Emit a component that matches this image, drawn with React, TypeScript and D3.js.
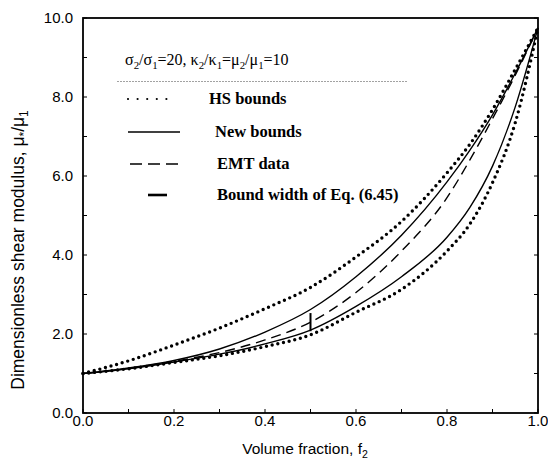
import React, { useEffect, useRef } from "react";
import * as d3 from "d3";

// volume fraction f2 where the curves were read
const fractions = [0, 0.1, 0.2, 0.3, 0.4, 0.5, 0.6, 0.7, 0.8, 0.85, 0.9, 0.95, 1.0];
const hsUpper = [1.0, 1.32, 1.72, 2.15, 2.64, 3.18, 3.95, 4.85, 6.08, 6.8, 7.68, 8.7, 9.75];
const hsLower = [1.0, 1.12, 1.28, 1.45, 1.68, 1.98, 2.55, 3.13, 4.1, 4.78, 5.83, 7.35, 9.75];
const newUpper = [1.0, 1.14, 1.33, 1.62, 2.05, 2.62, 3.45, 4.5, 5.85, 6.65, 7.55, 8.6, 9.75];
const newLower = [1.0, 1.12, 1.29, 1.49, 1.75, 2.1, 2.7, 3.45, 4.45, 5.2, 6.25, 7.75, 9.75];
const emtData = [1.0, 1.13, 1.31, 1.53, 1.85, 2.3, 3.05, 4.1, 5.45, 6.4, 7.45, 8.55, 9.75];

// bound width of Eq. (6.45) at f2 = 0.5
const boundWidthF = 0.5;
const boundWidthRange = [2.07, 2.53];

const xTickLabels = ["0.0", "0.2", "0.4", "0.6", "0.8", "1.0"];
const yTickLabels = ["0.0", "2.0", "4.0", "6.0", "8.0", "10.0"];

const legendItems = ["HS bounds", "New bounds", "EMT data", "Bound width of Eq. (6.45)"];

const W = 548;
const H = 459;

type Part = { t: string; sub?: boolean };

const richText = (sel: any, parts: Part[], size: number) => {
  parts.forEach((p, i) => {
    const prevSub = i > 0 && parts[i - 1].sub;
    if (p.sub) {
      sel.append("tspan").attr("font-size", size * 0.68).attr("dy", size * 0.25).text(p.t);
    } else {
      sel
        .append("tspan")
        .attr("font-size", size)
        .attr("dy", prevSub ? -size * 0.25 : 0)
        .text(p.t);
    }
  });
};

const App = () => {
  const svgRef = useRef<SVGSVGElement>(null);

  useEffect(() => {
    const svg = d3.select(svgRef.current);
    svg.selectAll("*").remove();

    const x = d3.scaleLinear().domain([0, 1]).range([83, 538]);
    const y = d3.scaleLinear().domain([0, 10]).range([413, 18]);

    const line = d3
      .line<number>()
      .x((_d, i) => x(fractions[i]))
      .y((d) => y(d))
      .curve(d3.curveMonotoneX);

    const g = svg.append("g");

    // HS bounds: dotted
    [hsUpper, hsLower].forEach((s) => {
      g.append("path")
        .attr("d", line(s))
        .attr("fill", "none")
        .attr("stroke", "#000")
        .attr("stroke-width", 3.4)
        .attr("stroke-linecap", "round")
        .attr("stroke-dasharray", "0 5.8");
    });

    // new bounds: solid
    [newUpper, newLower].forEach((s) => {
      g.append("path")
        .attr("d", line(s))
        .attr("fill", "none")
        .attr("stroke", "#000")
        .attr("stroke-width", 1.4);
    });

    // EMT: dashed
    g.append("path")
      .attr("d", line(emtData))
      .attr("fill", "none")
      .attr("stroke", "#000")
      .attr("stroke-width", 1.4)
      .attr("stroke-dasharray", "10 6");

    g.append("line")
      .attr("x1", x(boundWidthF))
      .attr("x2", x(boundWidthF))
      .attr("y1", y(boundWidthRange[0]))
      .attr("y2", y(boundWidthRange[1]))
      .attr("stroke", "#000")
      .attr("stroke-width", 2);

    // frame
    svg
      .append("rect")
      .attr("x", 83)
      .attr("y", 18)
      .attr("width", 455)
      .attr("height", 395)
      .attr("fill", "none")
      .attr("stroke", "#000")
      .attr("stroke-width", 1.8);

    // ticks
    const ticks = svg.append("g").attr("stroke", "#000").attr("stroke-width", 1);
    d3.range(0, 11).forEach((i) => {
      const v = i / 10;
      ticks.append("line").attr("x1", x(v)).attr("x2", x(v)).attr("y1", 413).attr("y2", 409);
      ticks.append("line").attr("y1", y(i)).attr("y2", y(i)).attr("x1", 83).attr("x2", 87);
      ticks.append("line").attr("y1", y(i)).attr("y2", y(i)).attr("x1", 538).attr("x2", 534);
    });

    const sans = "Liberation Sans, Arial, Helvetica, sans-serif";
    const serif = "Liberation Serif, Times New Roman, serif";

    svg
      .selectAll(".xt")
      .data(xTickLabels)
      .enter()
      .append("text")
      .attr("x", (d) => x(+d))
      .attr("y", 426)
      .attr("text-anchor", "middle")
      .attr("font-family", sans)
      .attr("font-size", 15)
      .text((d) => d);

    svg
      .selectAll(".yt")
      .data(yTickLabels)
      .enter()
      .append("text")
      .attr("x", 73)
      .attr("y", (d) => y(+d) + 5)
      .attr("text-anchor", "end")
      .attr("font-family", sans)
      .attr("font-size", 15)
      .text((d) => d);

    const xl = svg
      .append("text")
      .attr("x", 305)
      .attr("y", 454)
      .attr("text-anchor", "middle")
      .attr("font-family", sans)
      .attr("font-size", 15.5);
    richText(xl, [{ t: "Volume fraction, f" }, { t: "2", sub: true }], 15.5);

    const yl = svg
      .append("text")
      .attr("transform", "translate(24,250) rotate(-90)")
      .attr("text-anchor", "middle")
      .attr("font-family", sans)
      .attr("font-size", 17.5);
    richText(
      yl,
      [{ t: "Dimensionless shear modulus, μ" }, { t: "*", sub: true }, { t: "/μ" }, { t: "1", sub: true }],
      17.5
    );

    // legend
    const title = svg
      .append("text")
      .attr("x", 125)
      .attr("y", 65)
      .attr("font-family", serif)
      .attr("font-size", 16);
    richText(
      title,
      [
        { t: "σ" }, { t: "2", sub: true }, { t: "/σ" }, { t: "1", sub: true },
        { t: "=20, κ" }, { t: "2", sub: true }, { t: "/κ" }, { t: "1", sub: true },
        { t: "=μ" }, { t: "2", sub: true }, { t: "/μ" }, { t: "1", sub: true }, { t: "=10" },
      ],
      16
    );

    svg
      .append("line")
      .attr("x1", 117)
      .attr("x2", 408)
      .attr("y1", 81.5)
      .attr("y2", 81.5)
      .attr("stroke", "#8a8a8a")
      .attr("stroke-width", 0.8)
      .attr("stroke-dasharray", "2 1");

    const ly = [99, 132, 164, 195];
    const lx = [209, 215, 217, 217];

    svg.append("line").attr("x1", 128).attr("x2", 176).attr("y1", ly[0]).attr("y2", ly[0])
      .attr("stroke", "#000").attr("stroke-width", 2.2).attr("stroke-linecap", "round")
      .attr("stroke-dasharray", "0 9.6");
    svg.append("line").attr("x1", 128).attr("x2", 180).attr("y1", ly[1]).attr("y2", ly[1])
      .attr("stroke", "#000").attr("stroke-width", 1.6);
    svg.append("line").attr("x1", 130).attr("x2", 178).attr("y1", ly[2]).attr("y2", ly[2])
      .attr("stroke", "#000").attr("stroke-width", 1.6).attr("stroke-dasharray", "12 6");
    svg.append("line").attr("x1", 148).attr("x2", 167).attr("y1", ly[3]).attr("y2", ly[3])
      .attr("stroke", "#000").attr("stroke-width", 2.6);

    svg
      .selectAll(".lg")
      .data(legendItems)
      .enter()
      .append("text")
      .attr("x", (_d, i) => lx[i])
      .attr("y", (_d, i) => ly[i] + 5)
      .attr("font-family", serif)
      .attr("font-weight", "bold")
      .attr("font-size", 16.5)
      .text((d) => d);
  }, []);

  return (
    <svg
      ref={svgRef}
      width={W}
      height={H}
      viewBox={`0 0 ${W} ${H}`}
      style={{ position: "absolute", left: 0, top: 0, background: "#fff" }}
    ></svg>
  );
};

export default App;
